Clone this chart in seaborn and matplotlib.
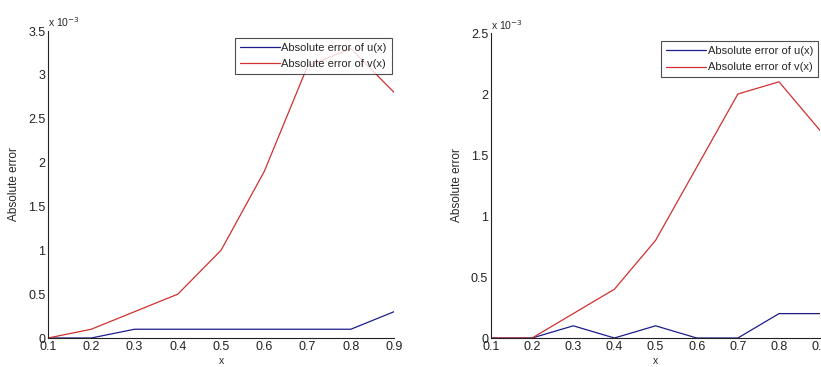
import numpy as np
import pandas as pd
import matplotlib
matplotlib.use('Agg')
import matplotlib.pyplot as plt
import seaborn as sns

# grid points
x_vals = [0.1, 0.2, 0.3, 0.4, 0.5, 0.6, 0.7, 0.8, 0.9]

# left panel (values in units of 1e-3)
u_err_left = [0.0, 0.0, 0.1, 0.1, 0.1, 0.1, 0.1, 0.1, 0.3]
v_err_left = [0.0, 0.1, 0.3, 0.5, 1.0, 1.9, 3.1, 3.3, 2.8]

# right panel (values in units of 1e-3)
u_err_right = [0.0, 0.0, 0.1, 0.0, 0.1, 0.0, 0.0, 0.2, 0.2]
v_err_right = [0.0, 0.0, 0.2, 0.4, 0.8, 1.4, 2.0, 2.1, 1.7]

series_names = ['Absolute error of u(x)', 'Absolute error of v(x)']
x_ticks = [0.1, 0.2, 0.3, 0.4, 0.5, 0.6, 0.7, 0.8, 0.9]
y_ticks_left = [0, 0.5, 1, 1.5, 2, 2.5, 3, 3.5]
y_ticks_right = [0, 0.5, 1, 1.5, 2, 2.5]

sns.set_style('white')
plt.rcParams['font.family'] = ['Liberation Sans', 'DejaVu Sans']

palette = {series_names[0]: '#1c1c8c', series_names[1]: '#d03030'}


def make_df(u, v):
    return pd.DataFrame({
        'x': x_vals * 2,
        'err': list(u) + list(v),
        'series': [series_names[0]] * len(u) + [series_names[1]] * len(v),
    })


fig = plt.figure(figsize=(8.21, 3.67), dpi=100)
ax_l = fig.add_axes([0.0585, 0.079, 0.4215, 0.8365])
ax_r = fig.add_axes([0.598, 0.079, 0.4010, 0.8310])

specs = [
    (ax_l, u_err_left, v_err_left, y_ticks_left, 3.5, 0.985),
    (ax_r, u_err_right, v_err_right, y_ticks_right, 2.5, 0.98),
]

for ax, u, v, yt, ymax, leg_top in specs:
    df = make_df(u, v)
    sns.lineplot(data=df, x='x', y='err', hue='series', palette=palette,
                 ax=ax, linewidth=0.9, legend=False)
    ax.set_xlim(0.1, 0.9)
    ax.set_ylim(0, ymax)
    ax.set_xticks(x_ticks)
    ax.set_xticklabels([f'{t:g}' for t in x_ticks])
    ax.set_yticks(yt)
    ax.set_yticklabels([f'{t:g}' for t in yt])
    ax.tick_params(direction='in', length=4, width=0.8, labelsize=9,
                   colors='#222222', pad=2)
    for side in ['top', 'right']:
        ax.spines[side].set_visible(False)
    for side in ['left', 'bottom']:
        ax.spines[side].set_color('#222222')
        ax.spines[side].set_linewidth(0.8)
    ax.set_xlabel('x', fontsize=7.5, labelpad=2)
    ax.set_ylabel('Absolute error', fontsize=8.5, labelpad=6)
    ax.text(0.0, 1.005, r'x 10$^{-3}$', transform=ax.transAxes,
            fontsize=7.5, ha='left', va='bottom')
    handles = [plt.Line2D([], [], color=palette[n], linewidth=0.9) for n in series_names]
    leg = ax.legend(handles, series_names, loc='upper right', fontsize=8,
                    frameon=True, fancybox=False, borderpad=0.45,
                    handlelength=3.6, handletextpad=0.1, labelspacing=0.55,
                    borderaxespad=0.2, bbox_to_anchor=(1.0, leg_top))
    leg.get_frame().set_edgecolor('#222222')
    leg.get_frame().set_linewidth(0.8)

fig.savefig('out.png', dpi=100)
